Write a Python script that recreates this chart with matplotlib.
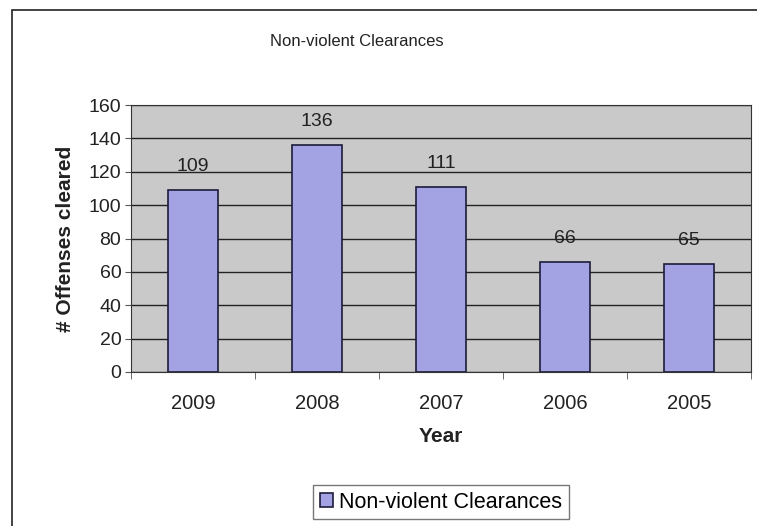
import matplotlib
matplotlib.use("Agg")
import matplotlib.pyplot as plt
from matplotlib.patches import Rectangle
import numpy as np

years = ["2009", "2008", "2007", "2006", "2005"]
values = [109, 136, 111, 66, 65]
series_name = "Non-violent Clearances"
title = "Non-violent Clearances"
yticks = [0, 20, 40, 60, 80, 100, 120, 140, 160]

W, H = 757, 526
fig = plt.figure(figsize=(W / 100, H / 100), dpi=100)
plt.rcParams['font.family'] = ['Liberation Sans', 'DejaVu Sans']

# outer chart frame
fig.patches.append(Rectangle((12 / W, -0.05), 1.1, 1 - 10 / H + 0.05, transform=fig.transFigure,
                             fill=False, edgecolor='#222222', linewidth=1.2))

ax = fig.add_axes([131 / W, 1 - 372 / H, (751 - 131) / W, (372 - 105) / H])
ax.set_facecolor('#C9C9C9')
x = np.arange(len(years))
bars = ax.bar(x, values, width=0.4, color='#A3A3E3', edgecolor='#1c1c3a', linewidth=1.2, zorder=3,
              label=series_name)
ax.set_xlim(-0.5, len(years) - 0.5)
ax.set_ylim(0, 160)
ax.set_yticks(yticks)
ax.set_yticklabels([str(t) for t in yticks], fontsize=14, color='#222222')
ax.yaxis.grid(True, color='#222222', linewidth=1.0, zorder=0)
ax.set_axisbelow(True)
ax.set_xticks(x)
ax.set_xticklabels(years, fontsize=14.5, color='#222222')
ax.tick_params(axis='x', length=0, pad=16)
ax.set_xticks(np.arange(-0.5, len(years)), minor=True)
ax.tick_params(axis='x', which='minor', length=5, color='#555555')
ax.tick_params(axis='y', length=4, color='#555555', pad=3)
for s in ['top', 'right', 'bottom', 'left']:
    ax.spines[s].set_color('#333333')

for xi, v in zip(x, values):
    ax.text(xi, v + 9, str(v), ha='center', va='bottom', fontsize=14, color='#222222', zorder=4)

ax.set_ylabel("# Offenses cleared", fontsize=15, fontweight='bold', labelpad=10, color='#222222')
ax.set_xlabel("Year", fontsize=15, fontweight='bold', labelpad=10, color='#222222')

fig.text(357 / W, 1 - 42 / H, title, ha='center', va='center', fontsize=12, color='#222222')

leg = fig.legend(handles=[bars], labels=[series_name], loc='center', bbox_to_anchor=(441 / W, 1 - 502 / H),
                 fontsize=15.5, frameon=True, fancybox=False, edgecolor='#555555', handlelength=0.6,
                 handleheight=0.6, handletextpad=0.3, borderpad=0.3)
leg.get_frame().set_linewidth(1.0)

fig.savefig("out.png", dpi=100)
